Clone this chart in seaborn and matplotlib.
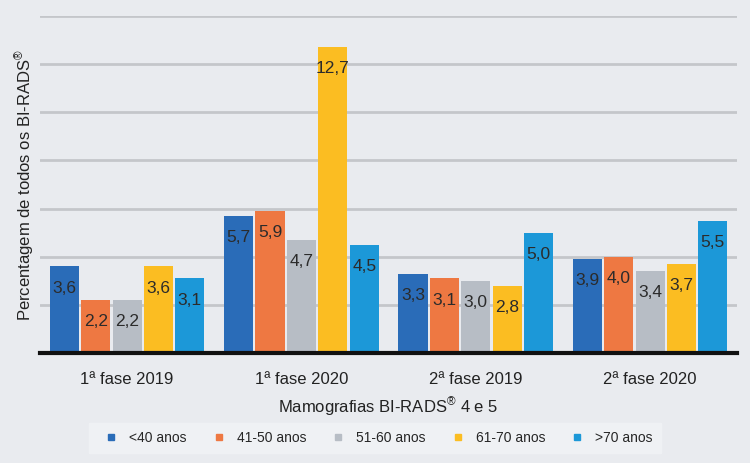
import numpy as np
import pandas as pd
import matplotlib.pyplot as plt
import seaborn as sns
from matplotlib.lines import Line2D

# Datos
fases = ['1ª fase 2019', '1ª fase 2020', '2ª fase 2019', '2ª fase 2020']
idades = ['<40 anos', '41-50 anos', '51-60 anos', '61-70 anos', '>70 anos']
v_menos40 = [3.6, 5.7, 3.3, 3.9]
v_41_50 = [2.2, 5.9, 3.1, 4.0]
v_51_60 = [2.2, 4.7, 3.0, 3.4]
v_61_70 = [3.6, 12.7, 2.8, 3.7]
v_mais70 = [3.1, 4.5, 5.0, 5.5]

cores = ['#2a6cb8', '#ee7842', '#b7bdc5', '#fbbd22', '#1c98d8']

series = [v_menos40, v_41_50, v_51_60, v_61_70, v_mais70]
rows = []
for idade, vals in zip(idades, series):
    for fase, v in zip(fases, vals):
        rows.append({'fase': fase, 'idade': idade, 'valor': v})
df = pd.DataFrame(rows)

sns.set_style('white')
plt.rcParams['font.family'] = ['Liberation Sans Narrow', 'Liberation Sans', 'DejaVu Sans']
plt.rcParams['mathtext.fontset'] = 'custom'
plt.rcParams['mathtext.rm'] = 'Liberation Sans'
bg = '#e9ebef'

fig = plt.figure(figsize=(7.5, 4.63), dpi=100, facecolor=bg)
ax = fig.add_axes([0.0533, 0.2376, 0.9297, 0.7278])
ax.set_facecolor(bg)

sns.barplot(data=df, x='fase', y='valor', hue='idade', hue_order=idades,
            palette=cores, width=0.9, gap=0.07, saturation=1, ax=ax,
            legend=False, linewidth=0, err_kws={'linewidth': 0})

for cont in ax.containers:
    labs = [f'{b.get_height():.1f}'.replace('.', ',') for b in cont]
    ax.bar_label(cont, labels=labs, padding=-21, fontsize=12.5, color='#2b2b2b')

ax.set_ylim(0, 14)
ax.set_xlim(-0.5, 3.5)
ax.set_yticks(np.arange(2, 15, 2))
ax.set_yticklabels([])
ax.tick_params(axis='y', length=0, pad=0)
ax.tick_params(axis='x', length=0, labelsize=12, colors='#222222', pad=14)
ax.yaxis.grid(True, color='#c4c6ca', linewidth=2)
ax.set_axisbelow(True)
for s in ['top', 'right', 'left']:
    ax.spines[s].set_visible(False)
ax.spines['bottom'].set_color('#111111')
ax.spines['bottom'].set_linewidth(3)

ax.set_xlabel('Mamografias BI-RADS$^{\\mathrm{®}}$ 4 e 5', fontsize=12, color='#222222', labelpad=6)
ax.set_ylabel('Percentagem de todos os BI-RADS$^{\\mathrm{®}}$', fontsize=12, color='#222222', labelpad=2)

handles = [Line2D([0], [0], marker='s', linestyle='', markersize=5,
                  markerfacecolor=c, markeredgecolor=c) for c in cores]
leg = fig.legend(handles, idades, loc='center', bbox_to_anchor=(0.5, 0.054),
                 ncol=5, frameon=True, fontsize=10, handletextpad=0.3,
                 columnspacing=1.3, borderpad=0.6, fancybox=False)
leg.get_frame().set_facecolor('#f1f3f6')
leg.get_frame().set_edgecolor('#f1f3f6')

fig.savefig('out.png', dpi=100, facecolor=bg)
